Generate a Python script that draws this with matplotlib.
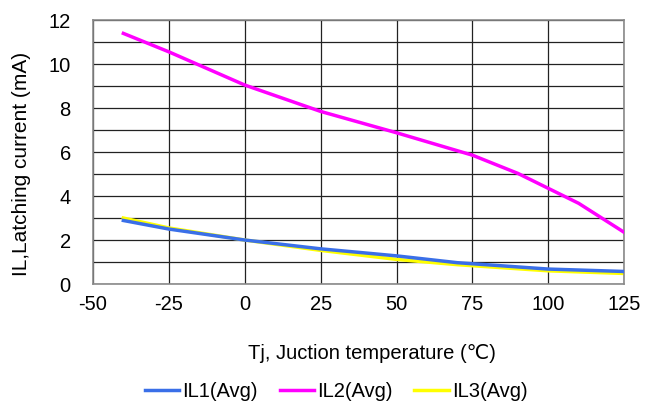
import matplotlib.pyplot as plt
import numpy as np

plt.rcParams['font.family'] = ['Liberation Sans', 'DejaVu Sans']
plt.rcParams['axes.unicode_minus'] = False

# temperatures (degC)
t_il1 = [-40, -25, 0, 25, 50, 70, 100, 125]
il1 = [2.89, 2.5, 2.0, 1.6, 1.28, 0.97, 0.68, 0.57]

t_il2 = [-40, -25, 0, 25, 50, 75, 90, 100, 110, 125]
il2 = [11.4, 10.56, 9.05, 7.85, 6.88, 5.86, 5.03, 4.35, 3.67, 2.35]

t_il3 = [-40, -25, 0, 25, 50, 70, 100, 125]
il3 = [3.0, 2.55, 2.0, 1.53, 1.12, 0.88, 0.6, 0.48]

fig = plt.figure(figsize=(6.55, 4.04), dpi=100)
ax = fig.add_axes([0.142, 0.297, 0.811, 0.653])

ax.plot(t_il1, il1, color='#3A6FE8', lw=2.5, label='IL1(Avg)', zorder=3)
ax.plot(t_il2, il2, color='#FF00FF', lw=2.5, label='IL2(Avg)', zorder=3)
ax.plot(t_il3, il3, color='#FFFF00', lw=2.5, label='IL3(Avg)', zorder=2)

ax.set_xlim(-50, 125)
ax.set_ylim(0, 12)
ax.set_xticks(np.arange(-50, 126, 25))
ax.set_yticks(np.arange(0, 13, 2))
ax.set_yticks(np.arange(1, 12, 2), minor=True)
ax.grid(True, which='both', color='#222222', lw=0.9)
ax.set_axisbelow(True)
ax.tick_params(which='both', length=0)
ax.tick_params(axis='x', pad=8, labelsize=14.5)
ax.tick_params(axis='y', pad=16, labelsize=14.5)
for s in ax.spines.values():
    s.set_color('#8a8a8a')
    s.set_linewidth(1.2)

ax.set_xlabel('Tj, Juction temperature (\u2103)', fontsize=14.5, va='center')
ax.xaxis.set_label_coords(0.526, -0.265)
ax.set_ylabel('IL,Latching current (mA)', fontsize=15, va='center')
ax.yaxis.set_label_coords(-0.134, 0.456)

fig.legend(loc='center', bbox_to_anchor=(0.513, 0.03), ncol=3, frameon=False,
           fontsize=14.5, handlelength=1.7, handletextpad=0.15, columnspacing=1.1)

fig.savefig('out.png', dpi=100)
